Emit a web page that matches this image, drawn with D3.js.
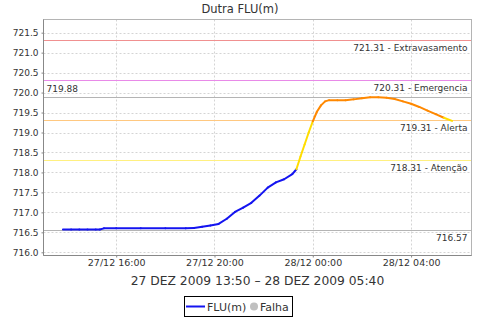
<!DOCTYPE html>
<meta charset="utf-8">
<style>
body { margin: 0; background: #fff; }
text { font-family: "DejaVu Sans", sans-serif; fill: #333; }
</style>
<body>
<script src="https://d3js.org/d3.v7.min.js"></script>
<script>

var width = 480,
    height = 320;

// leituras da serie FLU(m)
var times = [
  "2009-12-27 13:50", "2009-12-27 14:10", "2009-12-27 14:30", "2009-12-27 14:50",
  "2009-12-27 15:10", "2009-12-27 15:20", "2009-12-27 15:30", "2009-12-27 16:00",
  "2009-12-27 17:00", "2009-12-27 18:00", "2009-12-27 18:50", "2009-12-27 19:10",
  "2009-12-27 19:30", "2009-12-27 19:50", "2009-12-27 20:10", "2009-12-27 20:30",
  "2009-12-27 20:50", "2009-12-27 21:10", "2009-12-27 21:30", "2009-12-27 21:50",
  "2009-12-27 22:10", "2009-12-27 22:30", "2009-12-27 22:50", "2009-12-27 23:10",
  "2009-12-27 23:20", "2009-12-27 23:30", "2009-12-27 23:40", "2009-12-27 23:50",
  "2009-12-28 00:00", "2009-12-28 00:10", "2009-12-28 00:20", "2009-12-28 00:30",
  "2009-12-28 00:40", "2009-12-28 01:00", "2009-12-28 01:20", "2009-12-28 01:40",
  "2009-12-28 02:00", "2009-12-28 02:20", "2009-12-28 02:40", "2009-12-28 03:00",
  "2009-12-28 03:20", "2009-12-28 03:40", "2009-12-28 04:00", "2009-12-28 04:20",
  "2009-12-28 04:40", "2009-12-28 05:00", "2009-12-28 05:20", "2009-12-28 05:40"
];
var values = [
  716.57, 716.57, 716.57, 716.57,
  716.57, 716.57, 716.60, 716.60,
  716.60, 716.60, 716.60, 716.61,
  716.64, 716.67, 716.71, 716.84,
  717.01, 717.12, 717.24, 717.42,
  717.62, 717.75, 717.83, 717.96,
  718.08, 718.40, 718.70, 719.00,
  719.28, 719.52, 719.68, 719.78,
  719.81, 719.81, 719.81, 719.83,
  719.86, 719.88, 719.88, 719.87,
  719.84, 719.78, 719.72, 719.64,
  719.55, 719.46, 719.37, 719.29
];

// cotas de referencia
var markerValues = [721.31, 720.31, 719.31, 718.31];
var markerNames = ["Extravasamento", "Emergencia", "Alerta", "Atenção"];
var markerColors = ["#f09090", "#e88ae8", "#ffc880", "#fff080"];

var levelColors = ["#1414f0", "#ffdd00", "#ff8800"];   // abaixo atencao, atencao, alerta
var yDomain = [715.92, 721.83];
var yTicks = [716.0, 716.5, 717.0, 717.5, 718.0, 718.5, 719.0, 719.5, 720.0, 720.5, 721.0, 721.5];

var title = "Dutra FLU(m)";
var xLabel = "27 DEZ 2009 13:50 – 28 DEZ 2009 05:40";

var plotL = 43.5, plotR = 471.5, plotT = 19.5, plotB = 255.5;

var parse = d3.timeParse("%Y-%m-%d %H:%M");
var data = times.map(function(t, i) { return {t: parse(t), v: values[i]}; });

var ext = d3.extent(data, function(d) { return d.t; });
var pad = (ext[1] - ext[0]) * 0.05;

var x = d3.scaleTime()
    .domain([new Date(+ext[0] - pad), new Date(+ext[1] + pad)])
    .range([plotL, plotR]);
var y = d3.scaleLinear().domain(yDomain).range([plotB, plotT]);

var svg = d3.select("body").append("svg")
    .attr("width", width)
    .attr("height", height);

function py(v) { return Math.round(y(v)) + 0.5; }

// grade
var xTicks = x.ticks(d3.timeHour.every(4));
svg.append("g").selectAll("line").data(xTicks).enter().append("line")
    .attr("x1", function(d) { return Math.round(x(d)) + 0.5; })
    .attr("x2", function(d) { return Math.round(x(d)) + 0.5; })
    .attr("y1", plotT).attr("y2", plotB)
    .attr("stroke", "#d4d4d4").attr("stroke-dasharray", "2,2");
svg.append("g").selectAll("line").data(yTicks).enter().append("line")
    .attr("x1", plotL).attr("x2", plotR)
    .attr("y1", py).attr("y2", py)
    .attr("stroke", "#d4d4d4").attr("stroke-dasharray", "2,2");

// linhas de min / max
var vmax = d3.max(values), vmin = d3.min(values);
[vmax, vmin].forEach(function(v) {
  svg.append("line")
      .attr("x1", plotL).attr("x2", plotR)
      .attr("y1", py(v)).attr("y2", py(v))
      .attr("stroke", "#b4b4b4");
});
svg.append("text").attr("x", plotL + 3).attr("y", y(vmax) - 5)
    .attr("font-size", 9).text(vmax.toFixed(2));
svg.append("text").attr("x", plotR - 4).attr("y", y(vmin) + 11.5)
    .attr("text-anchor", "end").attr("font-size", 9).text(vmin.toFixed(2));

// cotas
markerValues.forEach(function(v, i) {
  svg.append("line")
      .attr("x1", plotL).attr("x2", plotR)
      .attr("y1", py(v)).attr("y2", py(v))
      .attr("stroke", markerColors[i]);
  svg.append("text").attr("x", plotR - 4).attr("y", y(v) + 11)
      .attr("text-anchor", "end").attr("font-size", 9)
      .text(v.toFixed(2) + " - " + markerNames[i]);
});

// serie, cor pelo nivel do ponto final de cada trecho
function levelColor(v) {
  if (v > markerValues[2]) return levelColors[2];
  if (v > markerValues[3]) return levelColors[1];
  return levelColors[0];
}
var segs = d3.pairs(data);
svg.append("g").selectAll("line").data(segs).enter().append("line")
    .attr("x1", function(d) { return x(d[0].t); })
    .attr("y1", function(d) { return y(d[0].v); })
    .attr("x2", function(d) { return x(d[1].t); })
    .attr("y2", function(d) { return y(d[1].v); })
    .attr("stroke", function(d) { return levelColor(d[1].v); })
    .attr("stroke-width", 2)
    .attr("stroke-linecap", "round");

// borda
svg.append("rect")
    .attr("x", plotL).attr("y", plotT)
    .attr("width", plotR - plotL).attr("height", plotB - plotT)
    .attr("fill", "none").attr("stroke", "#b4b4b4");
svg.append("line").attr("x1", plotL).attr("x2", plotL).attr("y1", plotT).attr("y2", plotB)
    .attr("stroke", "#888");
svg.append("line").attr("x1", plotL).attr("x2", plotR).attr("y1", plotB).attr("y2", plotB)
    .attr("stroke", "#888");

// eixos
var yAxis = svg.append("g")
    .attr("transform", "translate(" + plotL + ",0)")
    .call(d3.axisLeft(y).tickValues(yTicks).tickFormat(d3.format(".1f")).tickSize(2).tickPadding(3));
var xAxis = svg.append("g")
    .attr("transform", "translate(0," + plotB + ")")
    .call(d3.axisBottom(x).tickValues(xTicks).tickFormat(d3.timeFormat("%d/%m %H:%M")).tickSize(2).tickPadding(2));
[yAxis, xAxis].forEach(function(a) {
  a.select(".domain").remove();
  a.selectAll(".tick line").attr("stroke", "#888");
  a.selectAll("text").attr("font-family", "DejaVu Sans").attr("fill", "#333");
});
yAxis.selectAll("text").attr("font-size", 9);
xAxis.selectAll("text").attr("font-size", 9.5);

// titulos
svg.append("text").attr("x", width / 2).attr("y", 13)
    .attr("text-anchor", "middle").attr("font-size", 11.5).text(title);
svg.append("text").attr("x", (plotL + plotR) / 2).attr("y", 285)
    .attr("text-anchor", "middle").attr("font-size", 12.3).text(xLabel);

// legenda
var lg = svg.append("g");
lg.append("rect").attr("x", 184.5).attr("y", 296.5).attr("width", 108).attr("height", 20)
    .attr("fill", "#fff").attr("stroke", "#000");
lg.append("line").attr("x1", 186).attr("x2", 205).attr("y1", 306.5).attr("y2", 306.5)
    .attr("stroke", levelColors[0]).attr("stroke-width", 2);
lg.append("text").attr("x", 207).attr("y", 311).attr("font-size", 11).text("FLU(m)");
lg.append("circle").attr("cx", 254).attr("cy", 306.5).attr("r", 4).attr("fill", "#c0c0c0");
lg.append("text").attr("x", 260).attr("y", 311).attr("font-size", 11).text("Falha");

</script>
</body>
